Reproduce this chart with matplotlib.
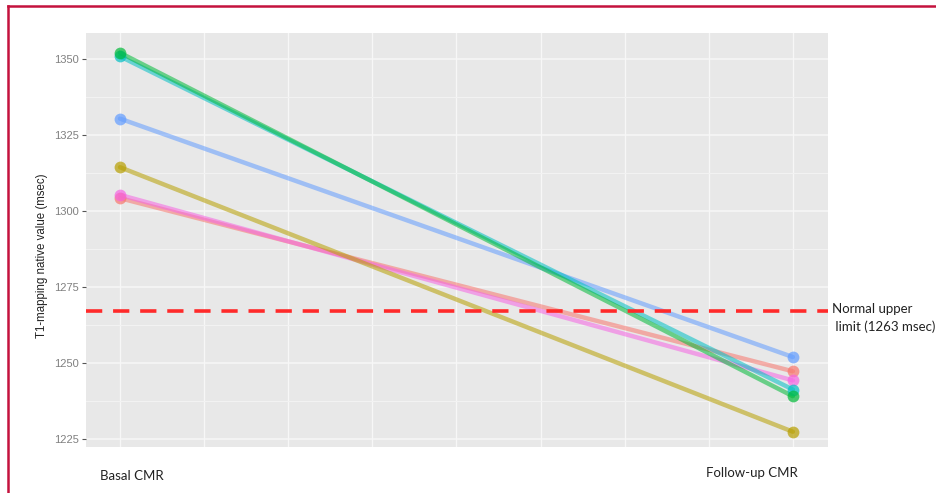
import matplotlib
matplotlib.use("Agg")
import matplotlib.pyplot as plt
import numpy as np
from matplotlib.lines import Line2D

# Data
time_points = ["Basal CMR", "Follow-up CMR"]
x_pos = [1, 2]
patients = ["P1", "P2", "P3", "P4", "P5", "P6"]
basal = [1304.3, 1314.5, 1352.2, 1351.0, 1330.5, 1305.4]
follow_up = [1247.3, 1227.4, 1239.1, 1241.3, 1252.0, 1244.3]
colors = ["#F8766D", "#B79F00", "#00BA38", "#00BFC4", "#619CFF", "#F564E3"]
normal_limit_y = 1267
normal_label = "Normal upper\n limit (1263 msec)"
y_ticks = [1225, 1250, 1275, 1300, 1325, 1350]
y_label = "T1-mapping native value (msec)"

W, H = 936, 493
fig = plt.figure(figsize=(W / 100, H / 100), dpi=100)
fig.patch.set_facecolor("white")

ax = fig.add_axes([86 / W, 1 - 447 / H, (827.5 - 86) / W, (447 - 33) / H])
ax.set_facecolor("#E8E8E8")
ax.set_xlim(0.9495, 2.0515)
ax.set_ylim(1222.37, 1358.7)

# grid
for xv in np.linspace(1, 2, 9):
    ax.axvline(xv, color="#F7F7F7", lw=1.0, zorder=0.5)
for yv in y_ticks:
    ax.axhline(yv, color="#F7F7F7", lw=1.1, zorder=0.5)
for yv in list(np.array(y_ticks[:-1]) + 12.5):
    ax.axhline(yv, color="#F2F2F2", lw=0.8, zorder=0.5)

for s in ax.spines.values():
    s.set_visible(False)

order = [0, 5, 1, 4, 3, 2]
for i in order:
    ax.plot(x_pos, [basal[i], follow_up[i]], color=colors[i], lw=3.2, alpha=0.55,
            solid_capstyle="round", zorder=2)
    ax.plot(x_pos, [basal[i], follow_up[i]], linestyle="none", marker="o",
            markersize=8.5, color=colors[i], alpha=0.7, markeredgewidth=0, zorder=3)

ax.axhline(normal_limit_y, color="#FF2A2A", lw=2.6, dashes=(4.5, 3.0), zorder=4)

ax.set_xticks([])
ax.set_yticks(y_ticks)
ax.set_yticklabels([str(t) for t in y_ticks], fontsize=8, color="#808080",
                   family="Liberation Sans")
ax.tick_params(axis="y", length=3, width=0.8, color="#555555", pad=2)

fig.text(42 / W, 1 - 256 / H, y_label, rotation=90, ha="center", va="center",
         fontsize=8.3, color="#222222", family="Liberation Sans")

fig.text(131.5 / W, 1 - 476.5 / H, time_points[0], ha="center", va="center",
         fontsize=9.5, color="#222222", family="Lato")
fig.text(752 / W, 1 - 473 / H, time_points[1], ha="center", va="center",
         fontsize=9.5, color="#222222", family="Lato")
fig.text(832 / W, 1 - 318 / H, normal_label, ha="left", va="center",
         fontsize=9.5, color="#222222", family="Lato", linespacing=1.6)

# border (top and left)
bc = "#C4123D"
fig.add_artist(Line2D([8 / W, 1.0], [1 - 6 / H, 1 - 6 / H], color=bc, lw=1.8,
                      transform=fig.transFigure))
fig.add_artist(Line2D([8 / W, 8 / W], [0.0, 1 - 6 / H], color=bc, lw=1.8,
                      transform=fig.transFigure))

fig.savefig("out.png", dpi=100)
